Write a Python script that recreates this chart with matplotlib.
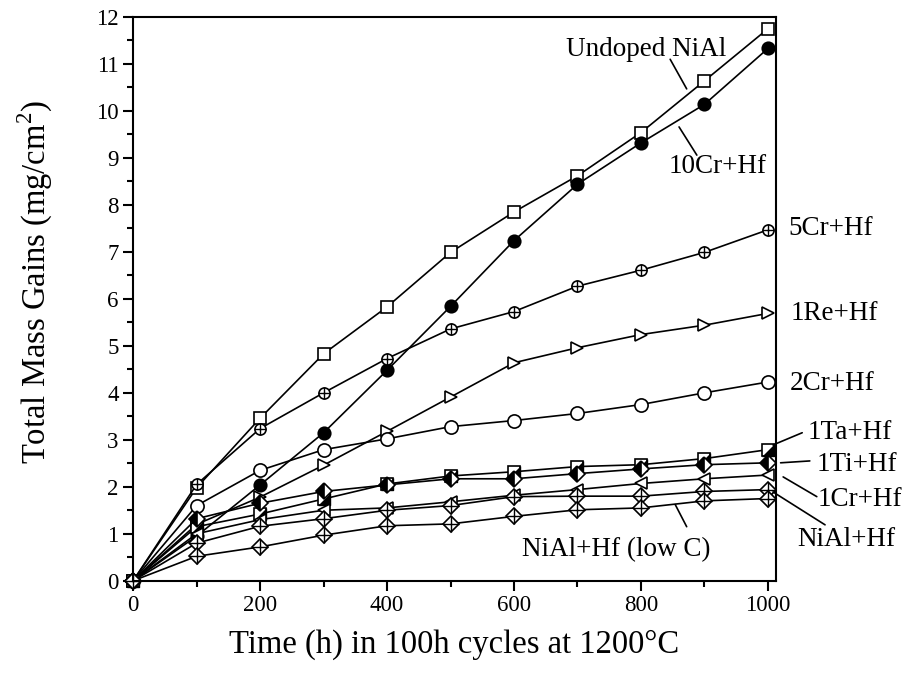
import matplotlib
matplotlib.use('Agg')
import matplotlib.pyplot as plt
from matplotlib.ticker import MultipleLocator

plt.rcParams['font.family'] = ['Liberation Serif', 'DejaVu Serif']
plt.rcParams['mathtext.fontset'] = 'custom'
plt.rcParams['mathtext.rm'] = 'Liberation Serif'

hours = [0, 100, 200, 300, 400, 500, 600, 700, 800, 900, 1000]

undoped = [0, 1.98, 3.46, 4.83, 5.83, 6.99, 7.85, 8.62, 9.54, 10.64, 11.75]
cr10_hf = [0, 0.95, 2.04, 3.15, 4.48, 5.84, 7.24, 8.44, 9.32, 10.14, 11.33]
cr5_hf = [0, 2.05, 3.24, 4.0, 4.73, 5.36, 5.73, 6.27, 6.61, 6.99, 7.47]
re1_hf = [0, 1.2, 1.78, 2.46, 3.18, 3.91, 4.64, 4.96, 5.24, 5.44, 5.69]
cr2_hf = [0, 1.6, 2.35, 2.79, 3.02, 3.28, 3.41, 3.56, 3.75, 4.0, 4.23]
ta1_hf = [0, 1.15, 1.42, 1.74, 2.06, 2.23, 2.32, 2.43, 2.47, 2.6, 2.79]
ti1_hf = [0, 1.32, 1.65, 1.9, 2.04, 2.17, 2.17, 2.28, 2.38, 2.47, 2.51]
cr1_hf = [0, 1.0, 1.3, 1.5, 1.55, 1.68, 1.82, 1.94, 2.07, 2.17, 2.25]
nial_hf = [0, 0.8, 1.16, 1.32, 1.5, 1.6, 1.79, 1.8, 1.8, 1.9, 1.94]
nial_hf_lowc = [0, 0.52, 0.72, 0.97, 1.17, 1.21, 1.37, 1.51, 1.55, 1.7, 1.75]

fig = plt.figure(figsize=(9.06, 6.8), dpi=100)
ax = fig.add_axes([0.147, 0.146, 0.709, 0.829])

lw = 1.2
common = dict(color='black', lw=lw, mec='black', mew=1.2, clip_on=False)

ax.plot(hours, undoped, marker='s', ms=9, mfc='white', **common)
ax.plot(hours, cr10_hf, marker='o', ms=9, mfc='black', **common)
ax.plot(hours, cr5_hf, marker='o', ms=8, mfc='white', **common)
ax.plot(hours, cr5_hf, ls='none', marker='+', ms=8, mec='black', mew=1.0, clip_on=False)
ax.plot(hours, re1_hf, marker='>', ms=9, mfc='white', **common)
ax.plot(hours, cr2_hf, marker='o', ms=9.5, mfc='white', **common)
ax.plot(hours, ta1_hf, marker='s', ms=9, mfc='white', **common)
ax.plot(hours, ta1_hf, ls='none', marker=[(-1, -1), (1, -1), (1, 1)], ms=9,
        mfc='black', mec='black', mew=1.0, clip_on=False)
ax.plot(hours, ti1_hf, marker='D', ms=8, mfc='black', fillstyle='left',
        markerfacecoloralt='white', **common)
ax.plot(hours, cr1_hf, marker='<', ms=9, mfc='white', **common)
for series in (nial_hf, nial_hf_lowc):
    ax.plot(hours, series, marker='D', ms=8, mfc='white', **common)
    ax.plot(hours, series, ls='none', marker='+', ms=11, mec='black', mew=1.0, clip_on=False)

ax.set_xlim(0, 1012)
ax.set_ylim(0, 12)
ax.xaxis.set_major_locator(MultipleLocator(200))
ax.xaxis.set_minor_locator(MultipleLocator(100))
ax.yaxis.set_major_locator(MultipleLocator(1))
ax.yaxis.set_minor_locator(MultipleLocator(0.5))
ax.tick_params(which='both', direction='out', top=False, right=False, labelsize=16.5, width=1.5)
ax.tick_params(which='major', length=7)
ax.tick_params(which='minor', length=4)
for s in ax.spines.values():
    s.set_linewidth(1.5)

ax.set_xlabel('Time (h) in 100h cycles at 1200\u00b0C', fontsize=23.5, labelpad=9)
ax.set_ylabel('Total Mass Gains (mg/cm$^\\mathregular{2}$)', fontsize=23.5)
ax.yaxis.set_label_coords(-0.122, 0.53)

fs = 19.5
# labels with leader lines
labels = [
    ('Undoped NiAl', (808, 11.3), 'center', (846, 11.1), (872, 10.47)),
    ('10Cr+Hf', (921, 8.81), 'center', (860, 9.66), (888, 9.06)),
    ('1Ta+Hf', (1063, 3.15), 'left', (1008, 2.89), (1054, 3.15)),
    ('1Ti+Hf', (1077, 2.47), 'left', (1020, 2.51), (1066, 2.55)),
    ('1Cr+Hf', (1079, 1.72), 'left', (1024, 2.21), (1077, 1.79)),
    ('NiAl+Hf', (1046, 0.87), 'left', (1008, 1.89), (1090, 1.19)),
    ('NiAl+Hf (low C)', (761, 0.66), 'center', (854, 1.62), (872, 1.15)),
]
for text, pos, ha, p1, p2 in labels:
    ax.text(pos[0], pos[1], text, ha=ha, va='center', fontsize=fs, clip_on=False)
    ax.annotate('', xy=p1, xytext=p2,
                arrowprops=dict(arrowstyle='-', lw=1.2, color='black', shrinkA=0, shrinkB=0),
                annotation_clip=False)

ax.text(1032, 7.49, '5Cr+Hf', ha='left', va='center', fontsize=fs)
ax.text(1035, 5.68, '1Re+Hf', ha='left', va='center', fontsize=fs)
ax.text(1035, 4.2, '2Cr+Hf', ha='left', va='center', fontsize=fs)

fig.savefig('out.png', dpi=100)
